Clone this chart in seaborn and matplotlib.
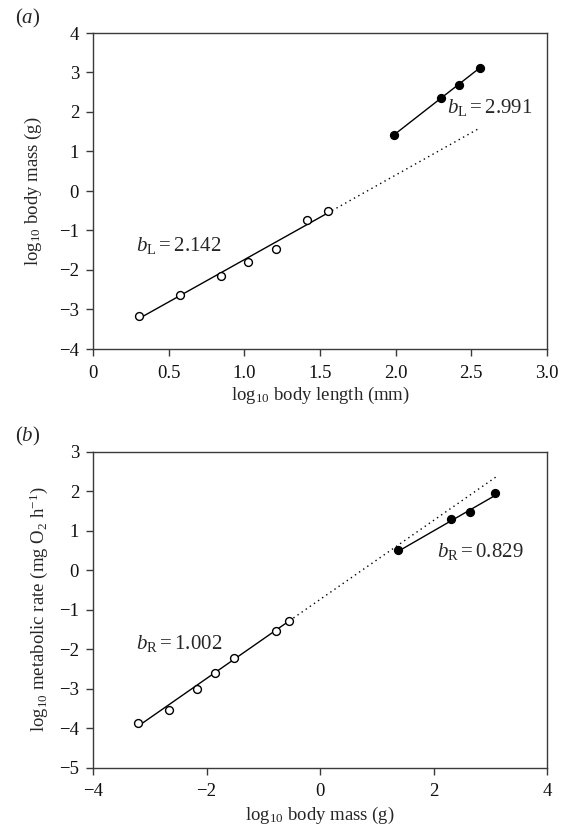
import numpy as np
import pandas as pd
import matplotlib
matplotlib.use("Agg")
import matplotlib.pyplot as plt
import seaborn as sns

# ---- data ----
# panel (a): log10 body length (mm) vs log10 body mass (g)
a_open_len = [0.302, 0.578, 0.845, 1.022, 1.209, 1.416, 1.551]
a_open_mass = [-3.175, -2.64, -2.146, -1.81, -1.47, -0.74, -0.50]
a_fill_len = [1.992, 2.301, 2.416, 2.555]
a_fill_mass = [1.43, 2.35, 2.685, 3.12]
a_open_fit = {"slope": 2.142, "intercept": -3.88}
a_fill_fit = {"slope": 2.991, "intercept": -4.528}
a_xticks = [0, 0.5, 1.0, 1.5, 2.0, 2.5, 3.0]
a_xticklabels = ["0", "0.5", "1.0", "1.5", "2.0", "2.5", "3.0"]
a_yticks = [-4, -3, -2, -1, 0, 1, 2, 3, 4]

# panel (b): log10 body mass (g) vs log10 metabolic rate
b_open_mass = [-3.206, -2.669, -2.175, -1.847, -1.512, -0.77, -0.541]
b_open_rate = [-3.877, -3.539, -3.014, -2.592, -2.212, -1.542, -1.273]
b_fill_mass = [1.382, 2.30, 2.642, 3.076]
b_fill_rate = [0.513, 1.308, 1.485, 1.95]
b_open_fit = {"slope": 1.002, "intercept": -0.74}
b_fill_fit = {"slope": 0.829, "intercept": -0.66}
b_xticks = [-4, -2, 0, 2, 4]
b_yticks = [-5, -4, -3, -2, -1, 0, 1, 2, 3]

sns.set_theme(style="ticks")
plt.rcParams["font.family"] = ["Liberation Serif", "DejaVu Serif"]
plt.rcParams["mathtext.fontset"] = "custom"
plt.rcParams["mathtext.rm"] = "Liberation Serif"
plt.rcParams["mathtext.it"] = "Liberation Serif:italic"
plt.rcParams["mathtext.bf"] = "Liberation Serif:bold"
plt.rcParams["axes.unicode_minus"] = True

FS = 13.5
AFS = 15
SPINE = "#3a3a3a"

fig = plt.figure(figsize=(5.7, 8.3), dpi=100)
ax1 = fig.add_axes([93 / 570, 1 - 349 / 830, (547 - 93) / 570, (349 - 33) / 830])
ax2 = fig.add_axes([93 / 570, 1 - 767.5 / 830, (547 - 93) / 570, (767.5 - 452) / 830])


def fit_line(ax, fit, x0, x1, ls):
    xs = [x0, x1]
    ys = [fit["intercept"] + fit["slope"] * v for v in xs]
    sns.lineplot(x=xs, y=ys, ax=ax, color="black", lw=1.0, linestyle=ls,
                 sort=False, estimator=None)


def style_ax(ax):
    for s in ax.spines.values():
        s.set_color(SPINE)
        s.set_linewidth(1.0)
    ax.tick_params(axis="both", direction="out", length=5, width=1.0,
                   color=SPINE, labelsize=FS, labelcolor="#111111")
    ax.tick_params(axis="x", pad=6.5)
    ax.tick_params(axis="y", pad=5)


# ---- panel (a) ----
fit_line(ax1, a_open_fit, a_open_len[0], a_open_len[-1], "-")
fit_line(ax1, a_open_fit, a_open_len[-1], a_fill_len[-1], (0, (1, 2.6)))
fit_line(ax1, a_fill_fit, a_fill_len[0], a_fill_len[-1], "-")
sns.scatterplot(x=a_open_len, y=a_open_mass, ax=ax1, marker="o", s=32,
                facecolor="white", edgecolor="black", linewidth=1.0, zorder=3)
sns.scatterplot(x=a_fill_len, y=a_fill_mass, ax=ax1, marker="o", s=32,
                color="black", edgecolor="black", linewidth=1.0, zorder=3)
ax1.set_xlim(0, 3.0)
ax1.set_ylim(-4, 4)
ax1.set_xticks(a_xticks)
ax1.set_xticklabels(a_xticklabels)
ax1.set_yticks(a_yticks)
ax1.set_xlabel(r"log$_{10}$ body length (mm)", fontsize=FS)
ax1.set_ylabel(r"log$_{10}$ body mass (g)", fontsize=FS)
ax1.xaxis.set_label_coords(0.5, -0.114)
ax1.yaxis.set_label_coords(-0.108, 0.5)
ax1.text(0.287, -1.53, r"$b_{\mathrm{L}} = 2.142$", fontsize=AFS,
         ha="left", va="baseline")
ax1.text(2.339, 1.97, r"$b_{\mathrm{L}} = 2.991$", fontsize=AFS,
         ha="left", va="baseline")
style_ax(ax1)

# ---- panel (b) ----
fit_line(ax2, b_open_fit, b_open_mass[0], b_open_mass[-1], "-")
fit_line(ax2, b_open_fit, b_open_mass[-1], 3.106, (0, (1, 2.6)))
fit_line(ax2, b_fill_fit, b_fill_mass[0], b_fill_mass[-1], "-")
sns.scatterplot(x=b_open_mass, y=b_open_rate, ax=ax2, marker="o", s=32,
                facecolor="white", edgecolor="black", linewidth=1.0, zorder=3)
sns.scatterplot(x=b_fill_mass, y=b_fill_rate, ax=ax2, marker="o", s=32,
                color="black", edgecolor="black", linewidth=1.0, zorder=3)
ax2.set_xlim(-4, 4)
ax2.set_ylim(-5, 3)
ax2.set_xticks(b_xticks)
ax2.set_yticks(b_yticks)
ax2.set_xlabel(r"log$_{10}$ body mass (g)", fontsize=FS)
ax2.set_ylabel(r"log$_{10}$ metabolic rate (mg O$_2$ h$^{-1}$)", fontsize=FS)
ax2.xaxis.set_label_coords(0.5, -0.117)
ax2.yaxis.set_label_coords(-0.094, 0.5)
ax2.text(-3.246, -2.0, r"$b_{\mathrm{R}} = 1.002$", fontsize=AFS,
         ha="left", va="baseline")
ax2.text(2.07, 0.35, r"$b_{\mathrm{R}} = 0.829$", fontsize=AFS,
         ha="left", va="baseline")
style_ax(ax2)

fig.text(15 / 570, 1 - 18 / 830, r"($a$)", fontsize=15, ha="left", va="center")
fig.text(15 / 570, 1 - 436 / 830, r"($b$)", fontsize=15, ha="left", va="center")

fig.savefig("out.png", dpi=100)
